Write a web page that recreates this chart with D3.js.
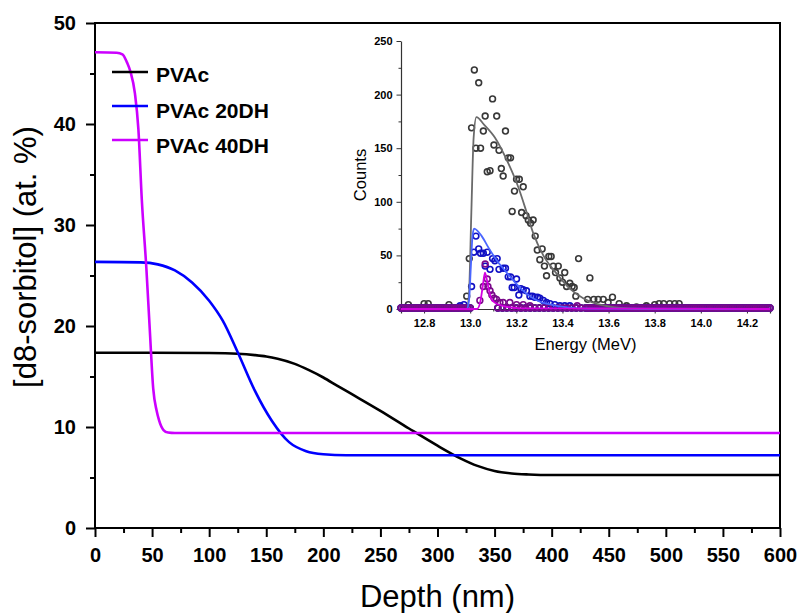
<!DOCTYPE html>
<html>
<head>
<meta charset="utf-8">
<script src="https://cdn.jsdelivr.net/npm/d3@7"></script>
<style>
  body { margin: 0; background: #fff; }
  svg { display: block; font-family: "Liberation Sans", Arial, sans-serif; }
</style>
</head>
<body>
<svg id="chart" width="798" height="613"></svg>
<script>
// depth profiles (main plot)
const seriesNames = ['PVAc', 'PVAc 20DH', 'PVAc 40DH'];
const seriesColors = ['#000000', '#0000ff', '#cc00ff'];

const pvacDepth = [0, 50, 100, 125, 140, 150, 160, 175, 187, 200, 212, 225, 250, 275, 300, 320, 335, 350, 365, 380, 400, 450, 600];
const pvacConc = [17.35, 17.35, 17.32, 17.25, 17.12, 16.98, 16.75, 16.25, 15.65, 14.9, 14.1, 13.25, 11.6, 9.85, 8.15, 6.9, 6.15, 5.65, 5.4, 5.3, 5.25, 5.25, 5.25];

const dh20Depth = [0, 40, 55, 70, 85, 100, 112, 125, 140, 155, 170, 185, 200, 220, 600];
const dh20Conc = [26.35, 26.3, 26.1, 25.5, 24.3, 22.5, 20.5, 17.4, 13.6, 10.6, 8.5, 7.6, 7.3, 7.2, 7.2];

const dh40Depth = [0, 19, 24, 28, 31, 35, 38, 41, 45, 48, 51, 54, 56, 60, 64, 70, 600];
const dh40Conc = [47.1, 47.05, 46.9, 46.1, 45.2, 43.0, 39.5, 32.5, 25.7, 19.6, 13.8, 11.6, 10.7, 9.7, 9.45, 9.4, 9.4];

const xTicks = [0, 50, 100, 150, 200, 250, 300, 350, 400, 450, 500, 550, 600];
const yTicks = [0, 10, 20, 30, 40, 50];

// inset spectra: measured counts
const grayE = [12.732, 12.80, 12.818, 12.908, 12.985, 12.996, 13.006, 13.018, 13.025, 13.037, 13.045, 13.057, 13.065, 13.074, 13.086, 13.097, 13.103, 13.115, 13.125, 13.135, 13.143, 13.153, 13.165, 13.175, 13.182, 13.192, 13.201, 13.213, 13.223, 13.23, 13.242, 13.252, 13.262, 13.273, 13.282, 13.291, 13.302, 13.312, 13.322, 13.331, 13.341, 13.351, 13.36, 13.37, 13.382, 13.389, 13.40, 13.41, 13.418, 13.432, 13.442, 13.451, 13.458, 13.47, 13.509, 13.519, 13.536, 13.555, 13.577, 13.598, 13.617, 13.646, 13.678, 13.721, 13.764, 13.80, 13.819, 13.839, 13.865, 13.887, 13.906];
const grayC = [4, 5, 5, 4, 12, 47, 169, 223, 150, 211, 150, 166, 180, 128, 129, 196, 153, 180, 148, 131, 124, 166, 141, 141, 91, 110, 121, 121, 90, 114, 87, 83, 80, 83, 68, 55, 46, 56, 40, 31, 49, 49, 40, 34, 40, 29, 25, 34, 21, 24, 21, 20, 12, 47, 9, 29, 9, 9, 9, 6, 11, 5, 3, 2, 3, 4, 5, 5, 5, 5, 5];

const blueE = [12.956, 12.973, 13.006, 13.016, 13.025, 13.037, 13.045, 13.057, 13.065, 13.074, 13.086, 13.097, 13.107, 13.117, 13.125, 13.143, 13.153, 13.165, 13.175, 13.182, 13.191, 13.201, 13.211, 13.22, 13.23, 13.244, 13.259, 13.27, 13.28, 13.292, 13.302, 13.317, 13.331, 13.346, 13.367, 13.389, 13.41, 13.432];
const blueC = [3, 4, 21, 53, 68, 56, 52, 52, 40, 53, 37, 47, 45, 47, 37, 38, 38, 30, 30, 20, 20, 28, 13, 19, 18, 17, 12, 12, 11, 11, 10, 8, 6, 5, 4, 3, 3, 3];

const purpleE = [13.042, 13.057, 13.065, 13.074, 13.077, 13.086, 13.094, 13.104, 13.114, 13.129, 13.143, 13.172, 13.201, 13.23, 13.259, 13.464];
const purpleC = [8, 21, 42, 28, 21, 17, 13, 10, 9, 6, 6, 6, 4, 4, 3, 3];

// channels sitting on the baseline (about 1 count)
const baseE = [12.70, 12.71, 12.72, 12.73, 12.74, 12.75, 12.76, 12.77, 12.78, 12.79, 12.80, 12.81, 12.82, 12.83, 12.84, 12.85, 12.86, 12.87, 12.88, 12.89, 12.90, 12.91, 12.92, 12.93, 12.94, 12.95, 12.96, 12.97, 12.98, 12.99, 13.00,
  13.12, 13.14, 13.16, 13.18, 13.20, 13.22, 13.24, 13.26, 13.28, 13.30, 13.32, 13.34, 13.36, 13.38, 13.40, 13.42, 13.44, 13.46, 13.48, 13.50,
  13.51, 13.52, 13.53, 13.54, 13.55, 13.56, 13.57, 13.58, 13.59, 13.60, 13.61, 13.62, 13.63, 13.64, 13.65, 13.66, 13.67, 13.68, 13.69, 13.70,
  13.71, 13.72, 13.73, 13.74, 13.75, 13.76, 13.77, 13.78, 13.79, 13.80, 13.81, 13.82, 13.83, 13.84, 13.85, 13.86, 13.87, 13.88, 13.89, 13.90,
  13.91, 13.92, 13.93, 13.94, 13.95, 13.96, 13.97, 13.98, 13.99, 14.00, 14.01, 14.02, 14.03, 14.04, 14.05, 14.06, 14.07, 14.08, 14.09, 14.10,
  14.11, 14.12, 14.13, 14.14, 14.15, 14.16, 14.17, 14.18, 14.19, 14.20, 14.21, 14.22, 14.23, 14.24, 14.25, 14.26, 14.27, 14.28, 14.29, 14.30];
const baseC = 1;

// inset fits
const grayFitE = [12.70, 12.985, 12.995, 13.005, 13.015, 13.027, 13.06, 13.107, 13.165, 13.208, 13.245, 13.273, 13.317, 13.375, 13.432, 13.49, 13.548, 13.59, 13.65, 13.75, 14.30];
const grayFitC = [0, 0, 15, 90, 160, 179, 172, 160, 136, 114, 90, 71, 50, 33, 19, 10, 4.7, 2.8, 1, 0, 0];
const blueFitE = [12.70, 12.985, 12.995, 13.003, 13.01, 13.017, 13.05, 13.08, 13.113, 13.15, 13.186, 13.22, 13.258, 13.30, 13.35, 13.42, 13.50, 14.30];
const blueFitC = [0, 0, 8, 40, 68, 75, 68, 57, 46, 36, 27, 19, 12, 7, 4, 1.5, 0.3, 0];
const magFitE = [12.70, 13.03, 13.045, 13.055, 13.064, 13.078, 13.09, 13.10, 13.129, 13.16, 13.22, 14.30];
const magFitC = [0, 0, 8, 22, 34, 21, 10, 7, 3.7, 2, 0.5, 0];

const insetXTicks = [12.8, 13.0, 13.2, 13.4, 13.6, 13.8, 14.0, 14.2];
const insetYTicks = [0, 50, 100, 150, 200, 250];

const svg = d3.select('#chart');
svg.append('rect').attr('width', 798).attr('height', 613).attr('fill', '#fff');

const margin = { top: 23, right: 18, bottom: 85, left: 95 };
const width = 798, height = 613;

const x = d3.scaleLinear().domain([0, 600]).range([margin.left, width - margin.right]);
const y = d3.scaleLinear().domain([0, 50]).range([height - margin.bottom, margin.top]);

const xAxis = g => g
  .attr('transform', `translate(0,${y(0)})`)
  .call(d3.axisBottom(x).tickValues(xTicks).tickSize(9).tickPadding(11).tickSizeOuter(0))
  .call(g => g.select('.domain').remove())
  .call(g => g.selectAll('line').attr('stroke-width', 2))
  .call(g => g.selectAll('text').attr('font-size', 20).attr('font-weight', 'bold').attr('fill', '#000'));

const xMinor = g => g
  .attr('transform', `translate(0,${y(0)})`)
  .call(d3.axisBottom(x).tickValues(xTicks.slice(1).map(d => d - 25)).tickSize(5).tickFormat(''))
  .call(g => g.select('.domain').remove())
  .call(g => g.selectAll('line').attr('stroke-width', 2));

const yAxis = g => g
  .attr('transform', `translate(${x(0)},0)`)
  .call(d3.axisLeft(y).tickValues(yTicks).tickSize(9).tickPadding(10).tickSizeOuter(0))
  .call(g => g.select('.domain').remove())
  .call(g => g.selectAll('line').attr('stroke-width', 2))
  .call(g => g.selectAll('text').attr('font-size', 20).attr('font-weight', 'bold').attr('fill', '#000'));

const yMinor = g => g
  .attr('transform', `translate(${x(0)},0)`)
  .call(d3.axisLeft(y).tickValues(yTicks.slice(1).map(d => d - 5)).tickSize(5).tickFormat(''))
  .call(g => g.select('.domain').remove())
  .call(g => g.selectAll('line').attr('stroke-width', 2));

svg.append('g').call(xMinor);
svg.append('g').call(xAxis);
svg.append('g').call(yMinor);
svg.append('g').call(yAxis);

// frame
svg.append('rect')
  .attr('x', x(0)).attr('y', y(50))
  .attr('width', x(600) - x(0)).attr('height', y(0) - y(50))
  .attr('fill', 'none').attr('stroke', '#000').attr('stroke-width', 2);

svg.append('text')
  .attr('x', (x(0) + x(600)) / 2).attr('y', 607)
  .attr('text-anchor', 'middle').attr('font-size', 31)
  .text('Depth (nm)');

svg.append('text')
  .attr('transform', 'translate(36,257) rotate(-90)')
  .attr('text-anchor', 'middle').attr('font-size', 31)
  .text('[d8-sorbitol] (at. %)');

const mainLine = d3.line()
  .x(d => x(d[0]))
  .y(d => y(d[1]))
  .curve(d3.curveMonotoneX);

const profiles = [
  d3.zip(pvacDepth, pvacConc),
  d3.zip(dh20Depth, dh20Conc),
  d3.zip(dh40Depth, dh40Conc)
];

svg.append('g')
  .selectAll('path')
  .data(profiles)
  .join('path')
  .attr('fill', 'none')
  .attr('stroke', (d, i) => seriesColors[i])
  .attr('stroke-width', 2.6)
  .attr('d', mainLine);

// legend
const legendLineY = [72, 106, 140];
const legendTextY = [82, 117.5, 153];
const legend = svg.append('g');
legend.selectAll('line')
  .data(seriesNames)
  .join('line')
  .attr('x1', 112).attr('x2', 148)
  .attr('y1', (d, i) => legendLineY[i]).attr('y2', (d, i) => legendLineY[i])
  .attr('stroke', (d, i) => seriesColors[i])
  .attr('stroke-width', 2.6);
legend.selectAll('text')
  .data(seriesNames)
  .join('text')
  .attr('x', 156)
  .attr('y', (d, i) => legendTextY[i])
  .attr('font-size', 21).attr('font-weight', 'bold')
  .text(d => d);

// inset
const ix = d3.scaleLinear().domain([12.7, 14.3]).range([401, 770]);
const iy = d3.scaleLinear().domain([0, 250]).range([309, 41]);
const inset = svg.append('g');

inset.append('g')
  .attr('transform', `translate(0,${iy(0)})`)
  .call(d3.axisBottom(ix).tickValues([12.7, 12.9, 13.1, 13.3, 13.5, 13.7, 13.9, 14.1, 14.3]).tickSize(2.5).tickFormat(''))
  .call(g => g.select('.domain').remove())
  .call(g => g.selectAll('line').attr('stroke', '#333'));
inset.append('g')
  .attr('transform', `translate(0,${iy(0)})`)
  .call(d3.axisBottom(ix).tickValues(insetXTicks).tickSize(4.5).tickPadding(6).tickFormat(d3.format('.1f')))
  .call(g => g.select('.domain').attr('stroke', '#333').attr('stroke-width', 1.2))
  .call(g => g.selectAll('line').attr('stroke', '#333'))
  .call(g => g.selectAll('text').attr('font-size', 11).attr('font-weight', 'bold').attr('fill', '#000'));

inset.append('g')
  .attr('transform', `translate(${ix(12.7)},0)`)
  .call(d3.axisLeft(iy).tickValues([25, 75, 125, 175, 225]).tickSize(2.5).tickFormat(''))
  .call(g => g.select('.domain').remove())
  .call(g => g.selectAll('line').attr('stroke', '#333'));
inset.append('g')
  .attr('transform', `translate(${ix(12.7)},0)`)
  .call(d3.axisLeft(iy).tickValues(insetYTicks).tickSize(4.5).tickPadding(4).tickSizeOuter(0))
  .call(g => g.select('.domain').attr('stroke', '#333').attr('stroke-width', 1.2))
  .call(g => g.selectAll('line').attr('stroke', '#333'))
  .call(g => g.selectAll('text').attr('font-size', 11).attr('font-weight', 'bold').attr('fill', '#000'));

inset.append('text')
  .attr('x', (ix(12.7) + ix(14.3)) / 2).attr('y', 350)
  .attr('text-anchor', 'middle').attr('font-size', 16.5)
  .text('Energy (MeV)');

inset.append('text')
  .attr('transform', `translate(366,${(iy(0) + iy(250)) / 2}) rotate(-90)`)
  .attr('text-anchor', 'middle').attr('font-size', 16.5)
  .text('Counts');

const insetLine = d3.line()
  .x(d => ix(d[0]))
  .y(d => iy(d[1]))
  .curve(d3.curveMonotoneX);

const spectra = [
  { pts: d3.zip(grayE, grayC), fit: d3.zip(grayFitE, grayFitC), stroke: '#383838', fitColor: '#6a6a6a' },
  { pts: d3.zip(blueE, blueC), fit: d3.zip(blueFitE, blueFitC), stroke: '#1010c4', fitColor: '#4a66ff' },
  { pts: d3.zip(purpleE, purpleC), fit: d3.zip(magFitE, magFitC), stroke: '#7a0a8a', fitColor: '#d400e0' }
];

spectra.forEach(s => {
  inset.append('g')
    .selectAll('circle')
    .data(s.pts.concat(baseE.map(e => [e, baseC])))
    .join('circle')
    .attr('cx', d => ix(d[0]))
    .attr('cy', d => iy(d[1]))
    .attr('r', 2.9)
    .attr('fill', 'none')
    .attr('stroke', s.stroke)
    .attr('stroke-width', 1.6);
});

spectra.forEach(s => {
  inset.append('path')
    .datum(s.fit)
    .attr('fill', 'none')
    .attr('stroke', s.fitColor)
    .attr('stroke-width', 1.8)
    .attr('d', insetLine);
});
</script>
</body>
</html>
